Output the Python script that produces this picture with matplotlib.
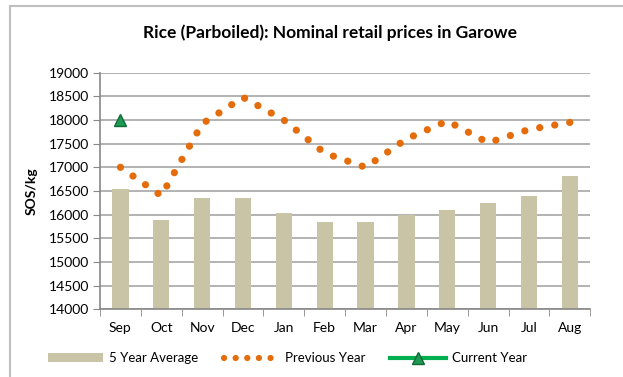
import numpy as np
import matplotlib.pyplot as plt
from matplotlib.lines import Line2D

months = ['Sep', 'Oct', 'Nov', 'Dec', 'Jan', 'Feb', 'Mar', 'Apr', 'May', 'Jun', 'Jul', 'Aug']
five_year_avg = [16550, 15880, 16360, 16360, 16040, 15835, 15845, 15985, 16100, 16250, 16390, 16810]
previous_year = [17000, 16400, 17920, 18480, 18000, 17300, 17000, 17600, 17980, 17520, 17800, 17950]
current_year = [18000]

plt.rcParams['font.family'] = ['Lato', 'DejaVu Sans']

fig = plt.figure(figsize=(6.23, 3.77), dpi=100)
ax = fig.add_axes([0.1605, 0.180, 0.787, 0.627])

x = np.arange(len(months))
bars = ax.bar(x, five_year_avg, width=0.4, color='#c9c4a6', zorder=2)
ax.plot(x, previous_year, color='#e46c0a', linewidth=5.2, linestyle=(0, (0.01, 2.1)),
        dash_capstyle='round', zorder=3)
cur_line, = ax.plot(x[:len(current_year)], current_year, color='#00b050', linewidth=3,
                    marker='^', markersize=9, markerfacecolor='#1f9a55', markeredgecolor='#0f6b35',
                    zorder=4)

ax.set_ylim(14000, 19000)
ax.set_yticks(np.arange(14000, 19001, 500))
ax.set_xlim(-0.5, len(months) - 0.5)
ax.set_xticks(x)
ax.set_xticklabels(months)
ax.set_xticks(np.arange(-0.5, len(months)), minor=True)
ax.tick_params(axis='x', which='major', length=0, pad=9, labelsize=10)
ax.tick_params(axis='x', which='minor', length=5, color='#888888', direction='out')
ax.tick_params(axis='y', length=5, color='#888888', labelsize=10, pad=3)

ax.grid(axis='y', color='#a6a6a6', linewidth=1.2, zorder=0)
ax.set_axisbelow(True)
for side in ['top', 'right']:
    ax.spines[side].set_visible(False)
for side in ['left', 'bottom']:
    ax.spines[side].set_color('#888888')
    ax.spines[side].set_linewidth(1.2)

ax.set_ylabel('SOS/kg', fontsize=10, fontweight='bold', labelpad=8)
fig.suptitle('Rice (Parboiled): Nominal retail prices in Garowe', x=0.53, y=0.935,
             fontsize=12.5, fontweight='bold')

# outer chart frame
fig.add_artist(Line2D([10 / 623, 10 / 623], [0, 1 - 6 / 377], color='#bfbfbf', linewidth=1.5))
fig.add_artist(Line2D([10 / 623, 1], [1 - 6 / 377, 1 - 6 / 377], color='#bfbfbf', linewidth=1.5))

# tighter dot pattern for the legend key
prev_key = Line2D([], [], color='#e46c0a', linewidth=4.5, linestyle=(0, (0.01, 1.85)),
                  dash_capstyle='round')
fig.legend([bars, prev_key, cur_line], ['5 Year Average', 'Previous Year', 'Current Year'],
           loc='center left', bbox_to_anchor=(0.058, 0.05), ncol=3,
           frameon=False, fontsize=9.5, handlelength=4.2, columnspacing=1.9, handletextpad=0.45)

fig.savefig('out.png', dpi=100)
